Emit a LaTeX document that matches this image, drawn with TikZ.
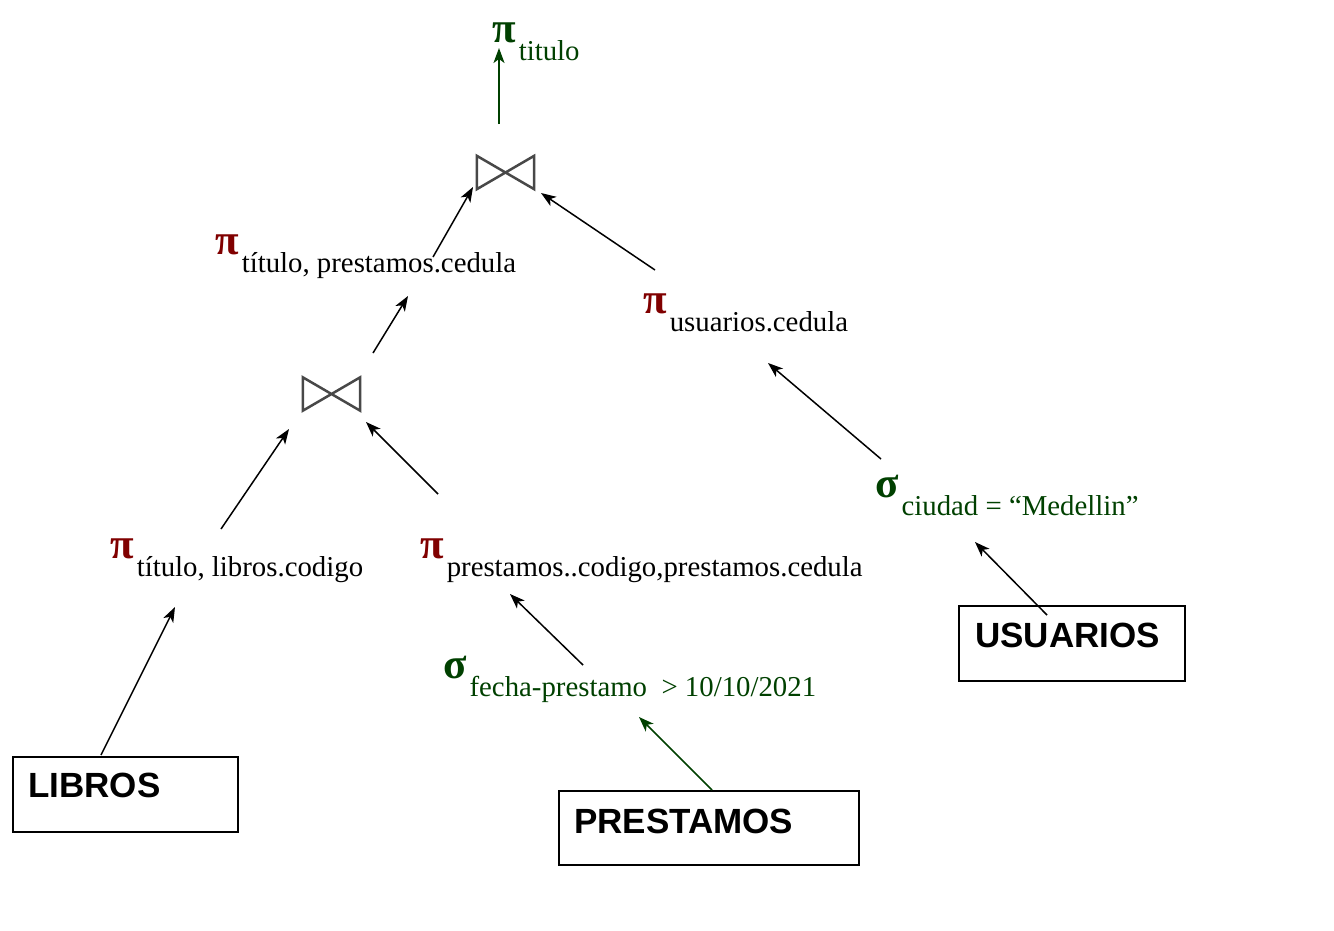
\documentclass[tikz,border=0pt]{standalone}
\usepackage{fontspec}
\setmainfont{Liberation Serif}
\setsansfont{Liberation Sans}
\usetikzlibrary{arrows.meta,calc}
\definecolor{opred}{RGB}{128,0,0}
\definecolor{opgreen}{RGB}{0,64,0}
\definecolor{joingray}{RGB}{72,72,72}
\newcommand\opsym[2]{{\fontsize{43}{44}\selectfont\bfseries\color{#1}#2}\kern3pt}
\newcommand\opsub[1]{\raisebox{-18pt}{#1}}
\tikzset{
  op/.style={inner sep=0pt, anchor=base west, font=\fontsize{28.8}{30}\selectfont},
  joinnode/.style={minimum width=57pt, minimum height=33pt, inner sep=0pt},
  joinline/.style={draw=joingray, line width=2.5pt, line join=miter},
  relbox/.style={draw=black, line width=2pt, inner sep=0pt, anchor=north west},
  reltext/.style={inner sep=0pt, anchor=base west, font=\fontsize{35}{36}\selectfont\sffamily\bfseries},
  arr/.style={-{Stealth[length=15pt,width=11pt,inset=4pt]}, line width=1.5pt, black},
  garr/.style={arr, draw=opgreen, -{Stealth[length=15pt,width=11pt,inset=4pt,fill=opgreen]}}
}
\begin{document}
\begin{tikzpicture}[x=1pt,y=-1pt]
\useasboundingbox (0,0) rectangle (1334,930);
% operators
\node[op] (ptop) at (492,42) {\opsym{opgreen}{π}\opsub{\color{opgreen}titulo}};
\node[op] (p1) at (215,254) {\opsym{opred}{π}\opsub{título, prestamos.cedula}};
\node[op] (p2) at (643,313) {\opsym{opred}{π}\opsub{usuarios.cedula}};
\node[op] (s1) at (875,497) {\opsym{opgreen}{σ}\opsub{\color{opgreen}ciudad = “Medellin”}};
\node[op] (p3) at (110,558) {\opsym{opred}{π}\opsub{título, libros.codigo}};
\node[op] (p4) at (420,558) {\opsym{opred}{π}\opsub{prestamos..codigo,prestamos.cedula}};
\node[op] (s2) at (443,678) {\opsym{opgreen}{σ}\opsub{\color{opgreen}fecha-prestamo\ \ > 10/10/2021}};
% joins
\node[joinnode] (j1) at (505.5,172.5) {};
\node[joinnode] (j2) at (331.5,394) {};
\draw[joinline] (j1.north west) -- (j1.south east) -- (j1.north east) -- (j1.south west) -- cycle;
\draw[joinline] (j2.north west) -- (j2.south east) -- (j2.north east) -- (j2.south west) -- cycle;
% relations
\node[relbox, minimum width=225pt, minimum height=75pt] (libros) at (12,756) {};
\node[reltext] (librost) at ($(libros.north west)+(16,41)$) {LIBROS};
\node[relbox, minimum width=226pt, minimum height=75pt] (usuarios) at (958,605) {};
\node[reltext] (usuariost) at ($(usuarios.north west)+(17,42)$) {USUARIOS};
\node[relbox, minimum width=300pt, minimum height=74pt] (prestamos) at (558,790) {};
\node[reltext] (prestamost) at ($(prestamos.north west)+(16,43)$) {PRESTAMOS};
% connectors
\draw[garr] ($(j1)+(-6.5,-48.5)$) -- ($(ptop.base west)+(7,6)$);
\draw[arr] ($(p1.base west)+(218,3)$) -- ($(j1)+(-32.5,14.5)$);
\draw[arr] ($(p2.base west)+(12,-43)$) -- ($(j1)+(35.5,20.5)$);
\draw[arr] ($(j2)+(41.5,-41)$) -- ($(p1.base west)+(193,42)$);
\draw[arr] ($(s1.base west)+(6,-38)$) -- ($(p2.base west)+(125,50)$);
\draw[arr] ($(usuarios.north west)+(89,10)$) -- ($(s1.base west)+(100,45)$);
\draw[arr] ($(p3.base west)+(111,-29)$) -- ($(j2)+(-42.5,35)$);
\draw[arr] ($(p4.base west)+(18,-64)$) -- ($(j2)+(34.5,28)$);
\draw[arr] ($(s2.base west)+(140,-13)$) -- ($(p4.base west)+(90,36)$);
\draw[garr] ($(prestamos.north west)+(154,0)$) -- ($(s2.base west)+(196,39)$);
\draw[arr] ($(libros.north west)+(89,-1)$) -- ($(p3.base west)+(65,49)$);
\end{tikzpicture}
\end{document}
